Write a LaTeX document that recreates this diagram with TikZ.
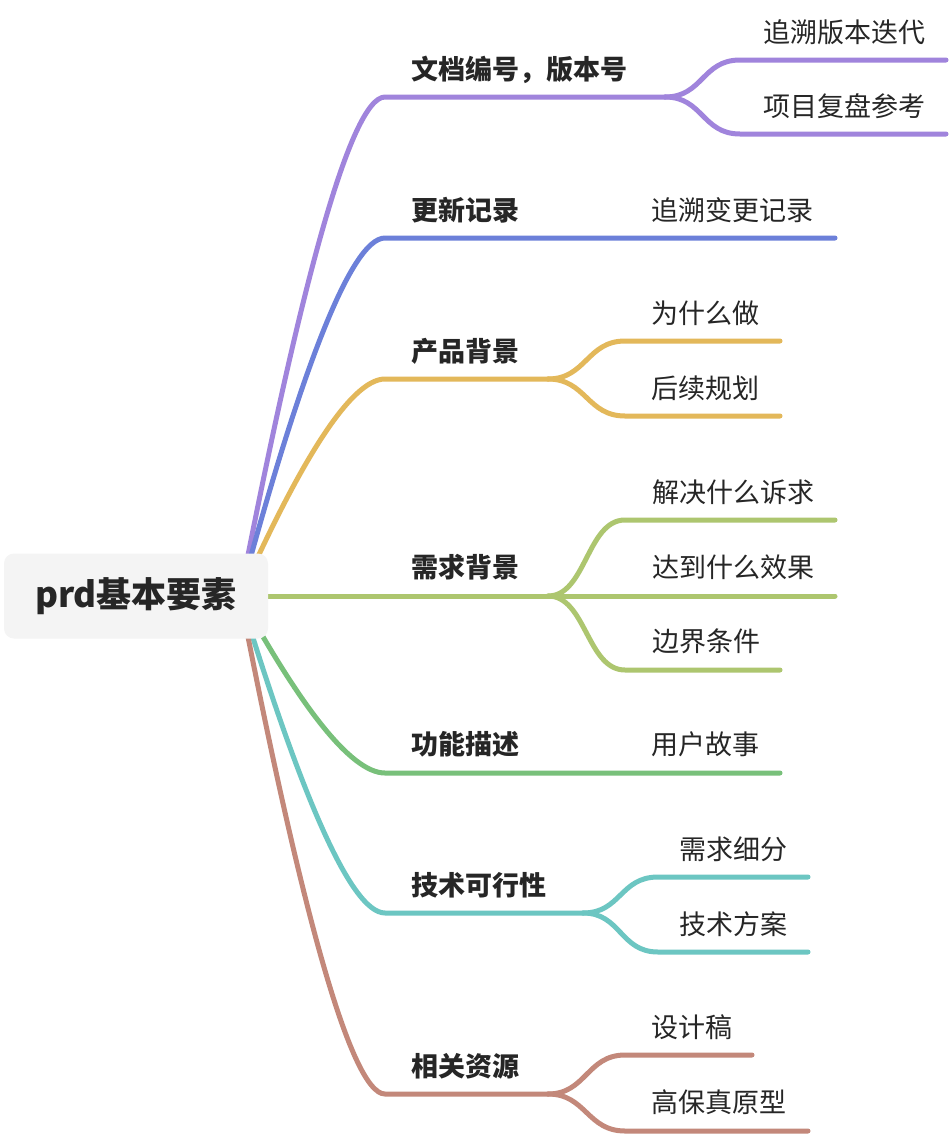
\documentclass[tikz,border=0pt]{standalone}
\usepackage{fontspec}
\setmainfont{Noto Sans CJK SC}
\definecolor{cpur}{RGB}{160,132,220}
\definecolor{cblu}{RGB}{108,128,217}
\definecolor{cyel}{RGB}{227,184,90}
\definecolor{cyg}{RGB}{173,198,111}
\definecolor{cgrn}{RGB}{120,192,122}
\definecolor{ctea}{RGB}{108,198,194}
\definecolor{cbro}{RGB}{195,136,122}
\definecolor{rootbg}{RGB}{244,244,244}
\definecolor{txt}{RGB}{38,38,38}
\tikzset{
  br/.style={line width=5pt, line cap=round},
  lone/.style={anchor=west, inner sep=0pt, text=txt, font=\fontsize{27}{30}\selectfont\bfseries, text height=0.88em, text depth=0.12em, yshift=-6pt},
  ltwo/.style={anchor=west, inner sep=0pt, text=txt, font=\fontsize{27}{30}\selectfont, text height=0.88em, text depth=0.12em, yshift=-6pt},
  rootbox/.style={draw=none, fill=rootbg, rounded corners=10pt, minimum width=264pt, minimum height=85pt, inner sep=0pt, text=txt, font=\fontsize{35}{40}\selectfont\bfseries}
}
\begin{document}
\begin{tikzpicture}[x=1pt,y=-1pt]
\fill[white] (0,0) rectangle (950,1136);
\useasboundingbox (0,0) rectangle (950,1136);
% start point (hidden by root box)
\coordinate (rs) at (240,596);
% level-1 corner points and junctions
\coordinate (a1) at (385,97);   \coordinate (j1) at (665,97);
\coordinate (a2) at (385,238);  \coordinate (e2) at (835,238);
\coordinate (a3) at (385,379);  \coordinate (j3) at (548,379);
\coordinate (a4) at (268,596);  \coordinate (j4) at (548,596);
\coordinate (a5) at (385,773);  \coordinate (e5) at (780,773);
\coordinate (a6) at (385,913);  \coordinate (j6) at (583,913);
\coordinate (a7) at (385,1094); \coordinate (j7) at (548,1094);
% child line starts / ends
\coordinate (c11) at (740,60);   \coordinate (e11) at (946,60);
\coordinate (c12) at (740,134);  \coordinate (e12) at (946,134);
\coordinate (c31) at (625,341);  \coordinate (e31) at (780,341);
\coordinate (c32) at (625,416);  \coordinate (e32) at (780,416);
\coordinate (c41) at (625,520);  \coordinate (e41) at (835,520);
\coordinate (e42) at (835,596);
\coordinate (c43) at (625,670);  \coordinate (e43) at (780,670);
\coordinate (c61) at (658,877);  \coordinate (e61) at (808,877);
\coordinate (c62) at (658,952);  \coordinate (e62) at (808,952);
\coordinate (c71) at (625,1055); \coordinate (e71) at (752,1055);
\coordinate (c72) at (625,1131); \coordinate (e72) at (808,1131);

% level-1 branches
\draw[br,cpur] (rs) .. controls (298,297) and (350,97) .. (a1) -- (j1);
\draw[br,cblu] (rs) .. controls (298,381) and (350,238) .. (a2) -- (e2);
\draw[br,cyel] (rs) .. controls (298,466) and (350,379) .. (a3) -- (j3);
\draw[br,cyg] (rs) -- (a4) -- (j4);
\draw[br,cgrn] (rs) .. controls (298,702) and (350,773) .. (a5) -- (e5);
\draw[br,ctea] (rs) .. controls (298,786) and (350,913) .. (a6) -- (j6);
\draw[br,cbro] (rs) .. controls (298,895) and (350,1094) .. (a7) -- (j7);

% level-2 branches
\draw[br,cpur] (j1) .. controls +(38,0) and +(-38,0) .. (c11) -- (e11);
\draw[br,cpur] (j1) .. controls +(38,0) and +(-38,0) .. (c12) -- (e12);
\draw[br,cyel] (j3) .. controls +(38,0) and +(-38,0) .. (c31) -- (e31);
\draw[br,cyel] (j3) .. controls +(38,0) and +(-38,0) .. (c32) -- (e32);
\draw[br,cyg] (j4) .. controls +(38,0) and +(-38,0) .. (c41) -- (e41);
\draw[br,cyg] (j4) -- (e42);
\draw[br,cyg] (j4) .. controls +(38,0) and +(-38,0) .. (c43) -- (e43);
\draw[br,ctea] (j6) .. controls +(38,0) and +(-38,0) .. (c61) -- (e61);
\draw[br,ctea] (j6) .. controls +(38,0) and +(-38,0) .. (c62) -- (e62);
\draw[br,cbro] (j7) .. controls +(38,0) and +(-38,0) .. (c71) -- (e71);
\draw[br,cbro] (j7) .. controls +(38,0) and +(-38,0) .. (c72) -- (e72);

% root
\node[rootbox] (root) at (136,596) {prd基本要素};

% level-1 labels
\node[lone] (t1) at (411,70) {文档编号，版本号};
\node[lone] (t2) at (411,211) {更新记录};
\node[lone] (t3) at (411,352) {产品背景};
\node[lone] (t4) at (411,568) {需求背景};
\node[lone] (t5) at (411,745) {功能描述};
\node[lone] (t6) at (411,886) {技术可行性};
\node[lone] (t7) at (411,1067) {相关资源};

% level-2 labels
\node[ltwo] (t11) at (763,33) {追溯版本迭代};
\node[ltwo] (t12) at (763,107) {项目复盘参考};
\node[ltwo] (t21) at (651,211) {追溯变更记录};
\node[ltwo] (t31) at (651,314) {为什么做};
\node[ltwo] (t32) at (651,389) {后续规划};
\node[ltwo] (t41) at (652,493) {解决什么诉求};
\node[ltwo] (t42) at (652,568) {达到什么效果};
\node[ltwo] (t43) at (652,642) {边界条件};
\node[ltwo] (t51) at (651,745) {用户故事};
\node[ltwo] (t61) at (679,850) {需求细分};
\node[ltwo] (t62) at (679,925) {技术方案};
\node[ltwo] (t71) at (651,1028) {设计稿};
\node[ltwo] (t72) at (651,1103) {高保真原型};
\end{tikzpicture}
\end{document}
